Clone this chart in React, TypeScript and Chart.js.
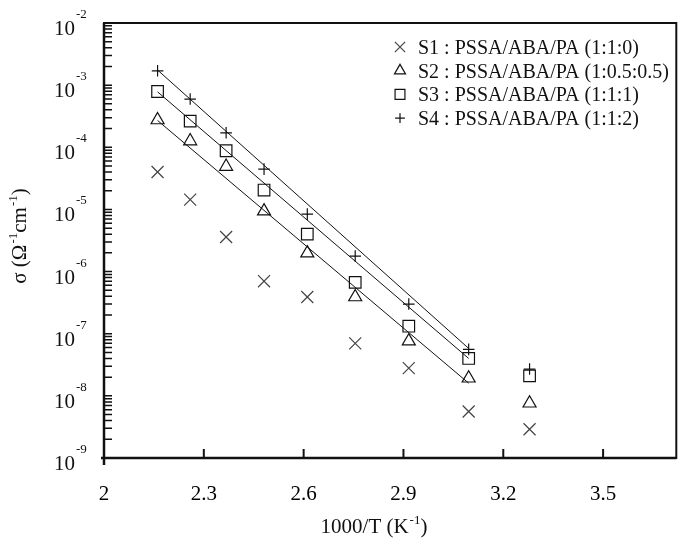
import React, { useRef, useEffect } from 'react';
import { Chart, registerables } from 'chart.js';

Chart.register(...registerables);

// 1000/T values (K^-1)
const invTemp = [2.161, 2.259, 2.367, 2.481, 2.611, 2.755, 2.916, 3.096, 3.279];

// conductivity (S/cm)
const sigmaS1 = [4.0e-5, 1.44e-5, 3.6e-6, 7.0e-7, 3.9e-7, 7.0e-8, 2.8e-8, 5.6e-9, 2.9e-9];
const sigmaS2 = [2.75e-4, 1.26e-4, 4.9e-5, 9.4e-6, 1.98e-6, 3.9e-7, 7.6e-8, 1.92e-8, 7.6e-9];
const sigmaS3 = [7.9e-4, 2.64e-4, 8.8e-5, 2.05e-5, 4.0e-6, 6.7e-7, 1.32e-7, 4.0e-8, 2.1e-8];
const sigmaS4 = [1.7e-3, 5.97e-4, 1.71e-4, 4.45e-5, 8.4e-6, 1.77e-6, 3.0e-7, 5.6e-8, 2.7e-8];

// fitted Arrhenius lines (end points)
const fitX = [2.161, 3.096];
const fitS2 = [2.7e-4, 1.6e-8];
const fitS3 = [7.8e-4, 4.0e-8];
const fitS4 = [1.75e-3, 5.8e-8];

const seriesLabels = [
    'S1 : PSSA/ABA/PA (1:1:0)',
    'S2 : PSSA/ABA/PA (1:0.5:0.5)',
    'S3 : PSSA/ABA/PA (1:1:1)',
    'S4 : PSSA/ABA/PA (1:1:2)',
];
const seriesStyles = ['crossRot', 'triangle', 'rect', 'cross'];
const seriesRadius = [8.5, 7.5, 8.2, 5.8];

const xTicks = [2, 2.3, 2.6, 2.9, 3.2, 3.5];
const yExponents = [-2, -3, -4, -5, -6, -7, -8, -9];

const FONT = "'Liberation Serif', 'Times New Roman', serif";
const INK = '#111';

type Part = [string, boolean];

function drawRich(ctx: CanvasRenderingContext2D, parts: Part[], x: number, y: number, size: number, supSize: number, rise: number, align: 'left' | 'center') {
    let total = 0;
    const widths = parts.map(([t, sup]) => {
        ctx.font = `${sup ? supSize : size}px ${FONT}`;
        const w = ctx.measureText(t).width + (sup ? 1 : 0);
        total += w;
        return w;
    });
    let cx = align === 'center' ? x - total / 2 : x;
    ctx.textAlign = 'left';
    ctx.textBaseline = 'alphabetic';
    parts.forEach(([t, sup], i) => {
        ctx.font = `${sup ? supSize : size}px ${FONT}`;
        ctx.fillText(t, cx + (sup ? 1 : 0), sup ? y - rise : y);
        cx += widths[i];
    });
}

function drawMarker(ctx: CanvasRenderingContext2D, style: string, x: number, y: number, r: number) {
    ctx.beginPath();
    if (style === 'crossRot') {
        const d = r * Math.SQRT1_2;
        ctx.moveTo(x - d, y - d); ctx.lineTo(x + d, y + d);
        ctx.moveTo(x - d, y + d); ctx.lineTo(x + d, y - d);
    } else if (style === 'cross') {
        ctx.moveTo(x - r, y); ctx.lineTo(x + r, y);
        ctx.moveTo(x, y - r); ctx.lineTo(x, y + r);
    } else if (style === 'rect') {
        const d = r * Math.SQRT1_2;
        ctx.rect(x - d, y - d, 2 * d, 2 * d);
    } else {
        let a = 0;
        ctx.moveTo(x + Math.sin(a) * r, y - Math.cos(a) * r);
        a += (2 * Math.PI) / 3;
        ctx.lineTo(x + Math.sin(a) * r, y - Math.cos(a) * r);
        a += (2 * Math.PI) / 3;
        ctx.lineTo(x + Math.sin(a) * r, y - Math.cos(a) * r);
        ctx.closePath();
    }
    ctx.stroke();
}

const decorPlugin = {
    id: 'decor',
    afterDraw(chart: any) {
        const { ctx, chartArea: area, scales } = chart;
        const xs = scales.x;
        const ys = scales.y;
        ctx.save();
        ctx.strokeStyle = INK;
        ctx.fillStyle = INK;

        // frame
        ctx.lineWidth = 2;
        ctx.strokeRect(area.left, area.top, area.right - area.left, area.bottom - area.top);
        ctx.lineWidth = 2.5;
        ctx.beginPath();
        ctx.moveTo(area.left - 3, area.bottom);
        ctx.lineTo(area.right, area.bottom);
        ctx.moveTo(area.left, area.bottom + 7);
        ctx.lineTo(area.left, area.top);
        ctx.stroke();

        // x ticks (inside)
        ctx.lineWidth = 2;
        ctx.beginPath();
        xTicks.forEach(v => {
            const px = xs.getPixelForValue(v);
            ctx.moveTo(px, area.bottom);
            ctx.lineTo(px, area.bottom - 9);
        });
        ctx.stroke();

        // y ticks, major and minor (inside)
        ctx.lineWidth = 1.5;
        ctx.beginPath();
        yExponents.forEach(e => {
            for (let m = 1; m <= 9; m++) {
                if (e === -2 && m > 1) break;
                const py = ys.getPixelForValue(m * Math.pow(10, e));
                ctx.moveTo(area.left, py);
                ctx.lineTo(area.left + 8, py);
            }
        });
        ctx.stroke();

        // y labels 10^n
        yExponents.forEach(e => {
            const py = ys.getPixelForValue(Math.pow(10, e));
            drawRich(ctx, [['10', false], [String(e), true]], 54, py + 12, 21, 13, 17, 'left');
        });

        // axis titles
        drawRich(ctx, [['1000/T (K', false], ['-1', true], [')', false]], 374, 533, 21, 13, 9, 'center');
        ctx.save();
        ctx.translate(26, 236);
        ctx.rotate(-Math.PI / 2);
        drawRich(ctx, [['σ (Ω', false], ['-1', true], ['cm', false], ['-1', true], [')', false]], 0, 0, 21, 13, 9, 'center');
        ctx.restore();

        // legend
        seriesLabels.forEach((label, i) => {
            const cy = 47 + i * 23.7;
            ctx.lineWidth = 1.2;
            ctx.strokeStyle = i === 0 ? '#444' : INK;
            drawMarker(ctx, seriesStyles[i], 400, cy, seriesRadius[i] * 0.85);
            ctx.font = `20px ${FONT}`;
            ctx.textAlign = 'left';
            ctx.textBaseline = 'alphabetic';
            ctx.fillText(label, 418, cy + 7);
        });
        ctx.restore();
    },
};

export default function App() {
    const canvasRef = useRef<HTMLCanvasElement | null>(null);
    const chartRef = useRef<Chart | null>(null);

    useEffect(() => {
        if (!canvasRef.current) return;
        const ctx = canvasRef.current.getContext('2d');
        if (!ctx) return;

        const markerSets = [sigmaS1, sigmaS2, sigmaS3, sigmaS4].map((vals, i) => ({
            type: 'scatter' as const,
            label: seriesLabels[i],
            data: invTemp.map((x, k) => ({ x, y: vals[k] })),
            pointStyle: seriesStyles[i],
            pointRadius: seriesRadius[i],
            pointBorderColor: i === 0 ? '#444' : INK,
            pointBackgroundColor: 'rgba(0,0,0,0)',
            pointBorderWidth: 1.2,
            showLine: false,
        }));
        const fitSets = [fitS2, fitS3, fitS4].map(vals => ({
            type: 'scatter' as const,
            label: 'fit',
            data: fitX.map((x, k) => ({ x, y: vals[k] })),
            showLine: true,
            pointRadius: 0,
            borderColor: INK,
            borderWidth: 1,
        }));

        chartRef.current = new Chart(ctx, {
            type: 'scatter',
            data: { datasets: [...markerSets, ...fitSets] as any },
            options: {
                animation: false,
                responsive: true,
                maintainAspectRatio: false,
                layout: { padding: { top: 23, right: 2, left: 0, bottom: 0 } },
                plugins: { legend: { display: false }, tooltip: { enabled: false } },
                scales: {
                    x: {
                        type: 'linear',
                        min: 2,
                        max: 3.72,
                        grid: { display: false },
                        border: { display: false },
                        afterBuildTicks: (scale: any) => {
                            scale.ticks = xTicks.map(v => ({ value: v }));
                        },
                        afterFit: (scale: any) => {
                            scale.height = 84;
                            scale.paddingLeft = 0;
                            scale.paddingRight = 0;
                        },
                        ticks: {
                            padding: 16,
                            color: '#000',
                            font: { family: FONT, size: 21 },
                            maxRotation: 0,
                            autoSkip: false,
                            callback: (v: any) => String(Math.round(Number(v) * 10) / 10),
                        },
                    },
                    y: {
                        type: 'logarithmic',
                        min: 1e-9,
                        max: 1e-2,
                        grid: { display: false },
                        border: { display: false },
                        ticks: { display: false },
                        afterFit: (scale: any) => {
                            scale.width = 104;
                            scale.paddingTop = 0;
                            scale.paddingBottom = 0;
                        },
                    },
                },
            },
            plugins: [decorPlugin],
        });

        return () => {
            if (chartRef.current) {
                chartRef.current.destroy();
                chartRef.current = null;
            }
        };
    }, []);

    return (
        <div style={{ position: 'absolute', left: 0, top: 0, width: 686, height: 542, background: '#fff' }}>
            <canvas ref={canvasRef} />
        </div>
    );
}
